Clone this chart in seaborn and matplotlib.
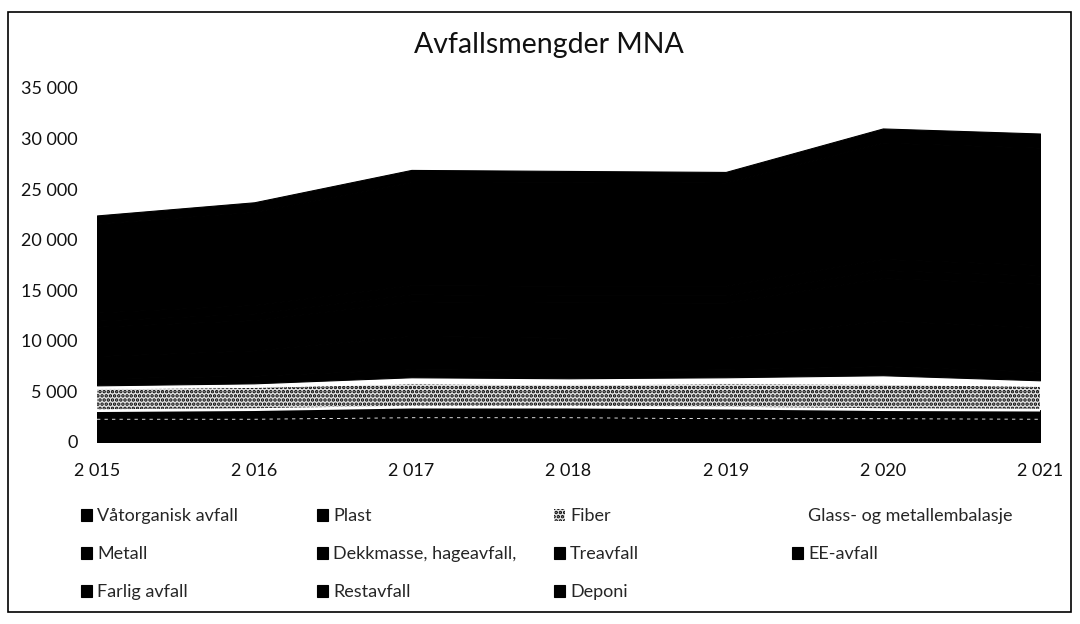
import numpy as np
import pandas as pd
import seaborn as sns
import matplotlib.pyplot as plt
from matplotlib.patches import Rectangle
from matplotlib.ticker import FuncFormatter

years = [2015, 2016, 2017, 2018, 2019, 2020, 2021]
year_labels = ["2 015", "2 016", "2 017", "2 018", "2 019", "2 020", "2 021"]

# tonn per fraksjon, lest av figuren (nederste serie først)
vatorganisk = [2250, 2250, 2400, 2400, 2300, 2300, 2250]
plast = [850, 950, 1050, 1050, 1050, 900, 900]
fiber = [2200, 2250, 2350, 2250, 2450, 2550, 2400]
glass_metall = [300, 350, 600, 600, 600, 850, 550]
metall = [700, 750, 800, 800, 780, 900, 850]
dekkmasse = [2200, 2500, 3300, 3200, 3100, 4500, 4400]
treavfall = [2900, 3000, 3400, 3500, 3500, 4200, 4300]
ee_avfall = [600, 650, 700, 700, 720, 800, 800]
farlig = [800, 850, 900, 950, 950, 1100, 1050]
restavfall = [8800, 9200, 10200, 10300, 10200, 11500, 11600]
deponi = [800, 950, 1200, 1050, 1050, 1400, 1400]

names = ["Våtorganisk avfall", "Plast", "Fiber", "Glass- og metallembalasje",
         "Metall", "Dekkmasse, hageavfall,", "Treavfall", "EE-avfall",
         "Farlig avfall", "Restavfall", "Deponi"]
values = [vatorganisk, plast, fiber, glass_metall, metall, dekkmasse,
          treavfall, ee_avfall, farlig, restavfall, deponi]
colors = ["black", "black", "#e2e2e2", "white"] + ["black"] * 7

df = pd.DataFrame(dict(zip(names, values)), index=years)

sns.set_theme(style="white")
plt.rcParams["font.family"] = ["Lato", "DejaVu Sans"]
plt.rcParams["hatch.linewidth"] = 1.7

fig = plt.figure(figsize=(10.8, 6.24), dpi=100)
ax = fig.add_axes([97 / 1080, 1 - 442 / 624, (1040 - 97) / 1080, (442 - 88) / 624])

polys = ax.stackplot(df.index, df.T.values, colors=colors, labels=names)
for p, c in zip(polys, colors):
    p.set_edgecolor(c)
    p.set_linewidth(0.8)
polys[2].set_hatch("....")
polys[2].set_edgecolor("black")
polys[2].set_linewidth(0)

# white seams seen in the scan: dotted between Våtorganisk/Plast, solid under Fiber
cum = df.cumsum(axis=1)
sns.lineplot(x=cum.index, y=cum[names[0]], ax=ax, color="white", lw=0.6,
             linestyle=(0, (4, 5)), legend=False)
sns.lineplot(x=cum.index, y=cum[names[1]], ax=ax, color="white", lw=2.0, legend=False)

ax.set_xlim(2015, 2021)
ax.set_ylim(0, 35000)
ax.set_yticks(range(0, 35001, 5000))
ax.yaxis.set_major_formatter(FuncFormatter(lambda v, p: f"{int(v):,}".replace(",", " ")))
ax.set_xticks(years)
ax.set_xticklabels(year_labels)
ax.set_xlabel("")
ax.set_ylabel("")
ax.tick_params(axis="y", labelsize=13, pad=14, length=0, colors="#111111")
ax.tick_params(axis="x", labelsize=13, pad=15, length=0, colors="#111111")
for s in ax.spines.values():
    s.set_visible(False)

fig.text(549 / 1080, 1 - 45 / 624, "Avfallsmengder MNA", ha="center", va="center",
         fontsize=20.5, color="#111111")

# legend in four columns, filled row by row like the original
columns = [[0, 4, 8], [1, 5, 9], [2, 6, 10], [3, 7]]
col_x = [81, 317, 554, 792]
for idx, cx in zip(columns, col_x):
    fig.legend([polys[i] for i in idx], [names[i] for i in idx],
               loc="upper left", bbox_to_anchor=(cx / 1080, 1 - 508 / 624),
               frameon=False, fontsize=13, handlelength=0.6, handleheight=0.65,
               handletextpad=0.3, labelspacing=1.22, borderpad=0, borderaxespad=0)

fig.add_artist(Rectangle((8 / 1080, 12 / 624), 1063 / 1080, 600 / 624,
                         transform=fig.transFigure, fill=False,
                         edgecolor="black", linewidth=1.2))

fig.savefig("out.png", dpi=100)
